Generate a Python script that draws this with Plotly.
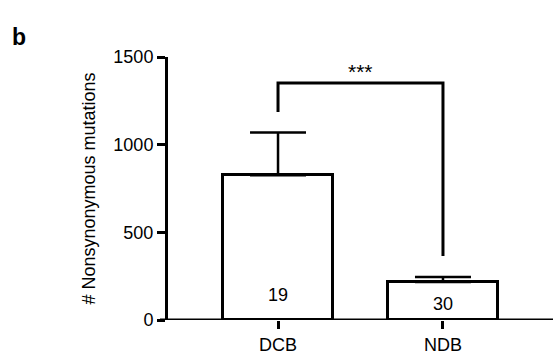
import plotly.graph_objects as go

categories = ["DCB", "NDB"]
means = [825, 217]
errors_up = [245, 28]
counts = ["19", "30"]
count_y = [140, 90]
y_ticks = [0, 500, 1000, 1500]
bracket_top = 1352
bracket_left_bottom = 1186
bracket_right_bottom = 365
sig_label = "***"

FONT = "Liberation Sans, Arial, Helvetica, sans-serif"
xpos = [0, 1]

fig = go.Figure()
fig.add_trace(go.Bar(
    x=xpos, y=means, width=0.667,
    marker=dict(color="white", line=dict(color="black", width=3)),
    error_y=dict(type="data", symmetric=False, array=errors_up,
                 arrayminus=[0, 0], color="black", thickness=2.5, width=28),
    showlegend=False, hoverinfo="skip",
))

# significance bracket
fig.add_trace(go.Scatter(
    x=[xpos[0], xpos[0], xpos[1], xpos[1]],
    y=[bracket_left_bottom, bracket_top, bracket_top, bracket_right_bottom],
    mode="lines", line=dict(color="black", width=3),
    showlegend=False, hoverinfo="skip",
))

fig.add_annotation(x=0.5, y=bracket_top, text=sig_label, showarrow=False,
                   yanchor="bottom", yshift=-2, font=dict(family=FONT, size=21, color="black"))
for xi, c, cy in zip(xpos, counts, count_y):
    fig.add_annotation(x=xi, y=cy, text=c, showarrow=False,
                       font=dict(family=FONT, size=18, color="black"))

# x axis line extending left past y axis ticks
fig.add_shape(type="line", xref="paper", yref="y", x0=-8/385, x1=1, y0=0, y1=0,
              line=dict(color="black", width=3))

fig.add_annotation(xref="paper", yref="paper", x=(10 - 168) / 385, y=1 + (57 - 22) / 263,
                   xanchor="left", text="<b>b</b>", showarrow=False,
                   font=dict(family=FONT, size=23, color="black"))

fig.update_layout(
    width=554, height=361,
    margin=dict(l=168, r=1, t=57, b=41, pad=0),
    paper_bgcolor="white", plot_bgcolor="white",
    font=dict(family=FONT, size=18, color="black"),
    bargap=0,
)
fig.update_xaxes(
    range=[-0.667, 1.667], tickmode="array", tickvals=xpos, ticktext=categories,
    ticks="outside", ticklen=8, tickwidth=3, tickcolor="black",
    showline=False, showgrid=False, zeroline=False,
    tickfont=dict(family=FONT, size=18, color="black"),
)
fig.update_yaxes(
    range=[0, 1500], tickmode="array", tickvals=y_ticks,
    ticks="outside", ticklen=8, tickwidth=3, tickcolor="black",
    showline=True, linewidth=3, linecolor="black",
    showgrid=False, zeroline=False,
    tickfont=dict(family=FONT, size=18, color="black"),
    title=dict(text="# Nonsynonymous mutations", standoff=14,
               font=dict(family=FONT, size=18, color="black")),
)

fig.write_html("out.html")
